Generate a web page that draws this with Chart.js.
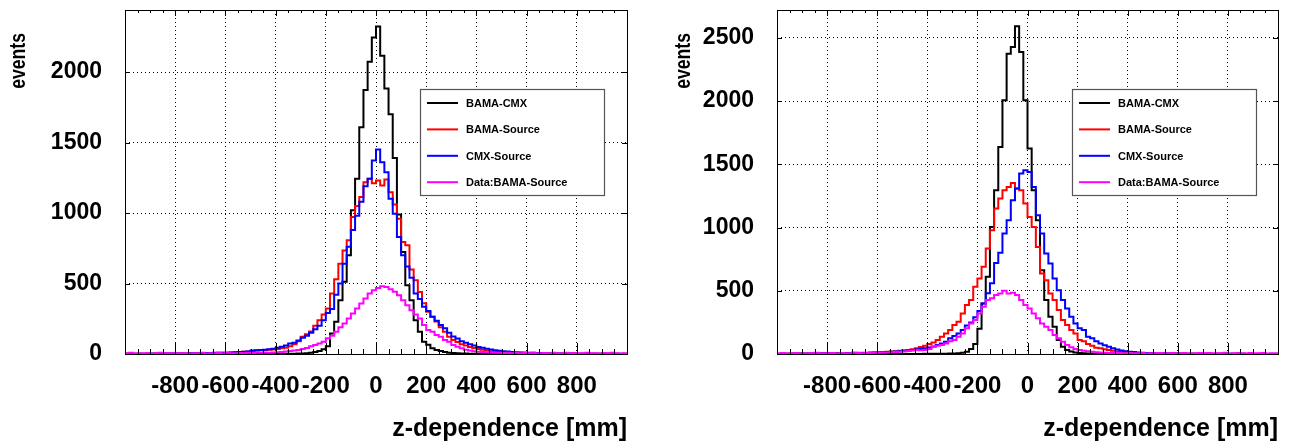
<!DOCTYPE html>
<html>
<head>
<meta charset="utf-8">
<script src="https://cdn.jsdelivr.net/npm/chart.js@4.4.1/dist/chart.umd.min.js"></script>
<style>
  html, body { margin: 0; padding: 0; background: #fff; }
  #wrap { position: relative; width: 1295px; height: 443px; }
  canvas { position: absolute; top: 0; }
</style>
</head>
<body>
<div id="wrap">
  <canvas id="left" width="647" height="443" style="left:0"></canvas>
  <canvas id="right" width="647" height="443" style="left:648px"></canvas>
</div>
<script>
// histogram binning (120 bins over -1000..1000 mm)
const BIN_COUNT = 120;
const Z_MIN = -1000;
const Z_MAX = 1000;
const binEdges = Array.from({ length: BIN_COUNT + 1 }, (_, i) => Z_MIN + i * (Z_MAX - Z_MIN) / BIN_COUNT);

const xTickValues = [-800, -600, -400, -200, 0, 200, 400, 600, 800];
const xMinorValues = Array.from({ length: 39 }, (_, i) => -950 + i * 50).filter(v => v % 200 !== 0);
const yTicksLeft = [0, 500, 1000, 1500, 2000];
const yTicksRight = [0, 500, 1000, 1500, 2000, 2500];
const yMaxLeft = 2440;
const yMaxRight = 2720;

const xTitle = 'z-dependence [mm]';
const yTitle = 'events';
const seriesNames = ['BAMA-CMX', 'BAMA-Source', 'CMX-Source', 'Data:BAMA-Source'];
const seriesColors = ['#000000', '#ff0000', '#0000ff', '#ff00ff'];

// left pad
const leftBamaCmx = [
  0,0,0,0,0,0,0,0,0,0, 0,0,0,0,0,0,0,0,0,0,
  0,0,0,0,0,0,0,0,0,0, 0,0,1,0,1,1,1,1,2,2,
  2,3,4,6,9,14,21,33,55,146, 229,382,512,700,1019,1243,1608,1872,2073,2245,
  2323,2115,1884,1700,1390,990,724,488,382,240, 158,87,66,40,28,21,14,9,7,5,
  4,3,2,2,1,1,0,1,0,0, 0,0,0,0,0,0,0,0,0,0,
  0,0,0,0,0,0,0,0,0,0, 0,0,0,0,0,0,0,0,0,0
];
const leftBamaSrc = [
  1,2,1,2,2,1,2,3,2,3, 3,3,4,4,4,5,5,5,6,6,
  7,7,8,8,9,10,12,14,16,18, 22,24,26,28,30,32,35,40,45,55,
  70,90,123,140,160,200,240,280,323,430, 530,640,735,806,971,1050,1113,1219,1243,1212,
  1231,1196,1238,1148,1060,960,795,771,600,523, 440,360,300,264,230,190,158,123,100,85,
  70,60,50,42,35,30,25,20,17,15, 12,11,10,9,8,7,7,6,5,5,
  4,4,3,4,3,3,2,3,2,2, 2,1,2,1,1,1,1,1,0,1
];
const leftCmxSrc = [
  1,2,2,1,2,2,3,2,3,3, 3,4,4,4,5,5,5,6,6,7,
  7,8,8,9,9,10,12,14,16,18, 24,26,28,30,34,38,45,52,60,75,
  80,95,115,130,150,175,200,240,290,320, 420,500,640,760,880,980,1080,1190,1243,1372,
  1450,1360,1290,1101,995,830,700,620,540,430, 390,335,305,264,235,205,182,150,125,110,
  90,80,70,60,50,45,38,32,27,23, 20,17,15,13,11,10,9,8,7,6,
  5,5,4,4,4,3,3,3,2,2, 2,2,1,2,1,1,1,1,1,0
];
const leftData = [
  5,8,3,6,4,7,2,5,9,3, 6,4,5,3,7,4,6,5,8,4,
  6,5,7,4,8,6,5,7,6,8, 7,9,8,10,9,11,12,14,18,21,
  24,28,35,42,55,64,75,87,111,130, 158,190,217,252,288,323,358,394,429,453,
  468,480,476,460,441,417,382,346,311,280, 252,205,170,158,134,123,99,87,64,52,
  40,30,24,20,16,14,12,10,9,8, 7,8,6,9,5,7,6,8,5,6,
  7,5,8,4,6,9,5,7,4,6, 8,5,6,4,7,5,8,6,4,5
];

// right pad
const rightBamaCmx = [
  0,0,0,0,0,0,0,0,0,0, 0,0,0,0,0,0,0,0,0,0,
  0,0,0,0,0,0,0,0,0,0, 0,0,0,0,0,1,1,1,2,2,
  2,3,4,6,10,18,40,80,200,400, 611,1005,1295,1637,2006,2374,2427,2592,2387,2006,
  1624,1295,1058,663,426,295,216,110,58,32, 20,12,8,5,4,3,2,2,1,1,
  0,0,0,0,0,0,0,0,0,0, 0,0,0,0,0,0,0,0,0,0,
  0,0,0,0,0,0,0,0,0,0, 0,0,0,0,0,0,0,0,0,0
];
const rightBamaSrc = [
  1,2,2,3,2,3,3,4,4,5, 5,5,6,6,7,7,8,8,9,9,
  9,10,12,13,14,16,18,20,22,25, 28,32,38,45,55,65,80,90,110,137,
  163,190,229,255,321,387,426,532,597,690, 834,979,1150,1229,1295,1321,1353,1308,1295,1190,
  1084,1005,847,637,584,479,426,347,268,229, 190,163,110,100,80,65,50,45,38,32,
  25,20,18,14,12,10,8,7,6,5, 5,4,4,3,3,3,2,2,2,2,
  2,1,1,2,1,1,1,1,0,1, 1,0,1,0,0,1,0,0,0,0
];
const rightCmxSrc = [
  1,1,2,2,2,3,3,3,4,4, 4,5,5,5,6,6,6,7,7,7,
  7,8,9,10,12,14,16,18,20,22, 25,28,32,35,40,45,52,60,71,84,
  97,124,142,163,190,225,250,290,340,400, 480,560,720,800,953,1058,1216,1308,1427,1453,
  1440,1321,1097,953,795,716,597,505,426,360, 295,242,203,190,137,124,100,84,70,58,
  45,35,28,22,18,15,12,10,8,7, 6,5,5,4,4,3,3,3,2,2,
  2,2,1,2,1,1,1,1,1,0, 1,1,0,1,0,0,1,0,0,0
];
const rightData = [
  4,7,3,5,8,2,6,4,5,9, 3,6,5,7,4,8,5,6,9,7,
  6,8,7,10,9,12,12,14,16,18, 20,24,28,32,30,32,40,58,65,71,
  84,100,110,137,163,203,242,268,321,374, 426,440,466,479,500,479,484,466,426,387,
  360,321,282,242,216,190,150,124,97,71, 53,40,32,26,22,18,14,12,10,8,
  7,8,6,5,7,6,5,8,4,6, 5,7,6,4,8,5,6,7,4,5,
  6,8,5,7,4,6,5,9,4,6, 7,5,4,8,6,5,7,4,6,5
];

const FONT = '"Liberation Sans", Arial, Helvetica, sans-serif';

function histPoints(vals) {
  const pts = vals.map((v, k) => ({ x: binEdges[k], y: v }));
  pts.push({ x: binEdges[BIN_COUNT], y: vals[vals.length - 1] });
  return pts;
}

// ROOT-like frame, inward ticks, titles and boxed legend
const rootDecor = {
  id: 'rootDecor',
  afterDatasetsDraw(chart, args, opts) {
    const { ctx, chartArea: a, scales: { x, y } } = chart;
    ctx.save();
    ctx.strokeStyle = '#000';
    ctx.lineWidth = 1;
    ctx.beginPath();
    xTickValues.forEach(v => {
      const px = Math.round(x.getPixelForValue(v)) + 0.5;
      ctx.moveTo(px, a.bottom); ctx.lineTo(px, a.bottom - 11);
      ctx.moveTo(px, a.top); ctx.lineTo(px, a.top + 6);
    });
    xMinorValues.forEach(v => {
      const px = Math.round(x.getPixelForValue(v)) + 0.5;
      ctx.moveTo(px, a.bottom); ctx.lineTo(px, a.bottom - 5);
      ctx.moveTo(px, a.top); ctx.lineTo(px, a.top + 3);
    });
    opts.yTicks.forEach(v => {
      const py = Math.round(y.getPixelForValue(v)) + 0.5;
      ctx.moveTo(a.left, py); ctx.lineTo(a.left + 5, py);
      ctx.moveTo(a.right, py); ctx.lineTo(a.right - 5, py);
    });
    ctx.stroke();
    ctx.strokeRect(Math.round(a.left) + 0.5, Math.round(a.top) + 0.5,
      Math.round(a.right - a.left), Math.round(a.bottom - a.top));

    // titles
    ctx.fillStyle = '#000';
    ctx.font = 'bold 25px ' + FONT;
    ctx.textAlign = 'right';
    ctx.textBaseline = 'middle';
    ctx.fillText(xTitle, a.right, 429);
    ctx.save();
    ctx.translate(opts.yTitleX, 33);
    ctx.rotate(-Math.PI / 2);
    ctx.scale(0.8, 1);
    ctx.font = 'bold 22px ' + FONT;
    ctx.textAlign = 'right';
    ctx.fillText(yTitle, 0, 0);
    ctx.restore();

    // legend box
    const bx = a.left + 295, by = 89, bw = 184, bh = 106;
    ctx.fillStyle = '#fff';
    ctx.fillRect(bx, by, bw, bh);
    ctx.strokeStyle = '#555';
    ctx.lineWidth = 1.2;
    ctx.strokeRect(bx + 0.5, by + 0.5, bw, bh);
    ctx.font = 'bold 11px ' + FONT;
    ctx.textAlign = 'left';
    ctx.textBaseline = 'middle';
    chart.data.datasets.slice().sort((p, q) => p.legendIndex - q.legendIndex).forEach((ds, i) => {
      const ry = by + 14 + i * 26.4;
      ctx.strokeStyle = ds.borderColor;
      ctx.lineWidth = 2;
      ctx.beginPath();
      ctx.moveTo(bx + 7, ry); ctx.lineTo(bx + 38, ry);
      ctx.stroke();
      ctx.fillStyle = '#000';
      ctx.fillText(ds.label, bx + 46, ry + 1);
    });
    ctx.restore();
  }
};

function makePanel(canvasId, seriesList, yTicks, yMax, yAxisWidth, padRight, yTitleX) {
  const datasets = seriesList.map((vals, i) => ({
    label: seriesNames[i],
    legendIndex: i,
    data: histPoints(vals),
    borderColor: seriesColors[i],
    borderWidth: 2,
    stepped: true,
    fill: false,
    pointRadius: 0,
    order: seriesList.length - i
  }));
  return new Chart(document.getElementById(canvasId), {
    type: 'line',
    data: { datasets },
    options: {
      responsive: false,
      animation: false,
      layout: { padding: { top: 10, right: padRight, left: 0, bottom: 0 } },
      plugins: {
        legend: { display: false },
        tooltip: { enabled: false },
        rootDecor: { yTicks, yTitleX }
      },
      scales: {
        x: {
          type: 'linear',
          min: Z_MIN,
          max: Z_MAX,
          afterBuildTicks: s => { s.ticks = xTickValues.map(v => ({ value: v })); },
          afterFit: s => { s.height = 89; s.paddingLeft = 0; s.paddingRight = 0; },
          grid: { color: '#000', lineWidth: 1, drawTicks: false },
          border: { display: false, dash: [1, 3] },
          ticks: {
            color: '#000',
            font: { family: FONT, size: 24, weight: 'bold' },
            padding: 18,
            maxRotation: 0,
            autoSkip: false,
            callback: v => String(v)
          }
        },
        y: {
          type: 'linear',
          min: 0,
          max: yMax,
          afterBuildTicks: s => { s.ticks = yTicks.map(v => ({ value: v })); },
          afterFit: s => { s.width = yAxisWidth; s.paddingTop = 0; s.paddingBottom = 0; },
          grid: { color: '#000', lineWidth: 1, drawTicks: false },
          border: { display: false, dash: [1, 3] },
          ticks: {
            color: '#000',
            font: { family: FONT, size: 23, weight: 'bold' },
            padding: 23,
            callback: v => String(v)
          }
        }
      }
    },
    plugins: [rootDecor]
  });
}

makePanel('left', [leftBamaCmx, leftBamaSrc, leftCmxSrc, leftData], yTicksLeft, yMaxLeft, 125, 20, 19);
makePanel('right', [rightBamaCmx, rightBamaSrc, rightCmxSrc, rightData], yTicksRight, yMaxRight, 129, 17, 36);
</script>
</body>
</html>
